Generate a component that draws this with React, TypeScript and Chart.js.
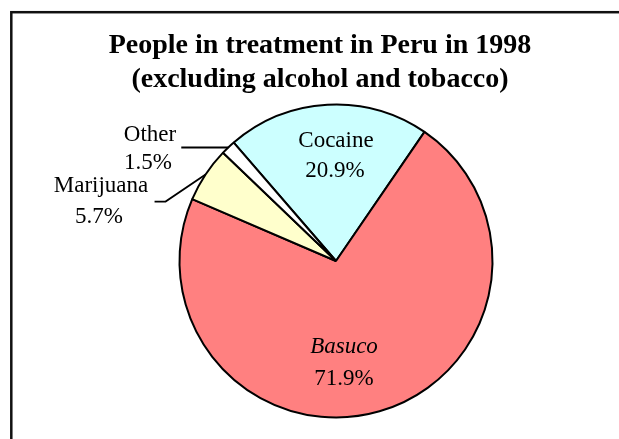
import React, { useEffect, useRef } from "react";
import { Chart, registerables } from "chart.js";

Chart.register(...registerables);

// ---- data ----
const categories = ["Cocaine", "Basuco", "Marijuana", "Other"];
const shares = [20.9, 71.9, 5.7, 1.5];
const sliceColors = ["#CCFFFF", "#FF8080", "#FFFFCC", "#FFFFFF"];
const titleLines = ["People in treatment in Peru in 1998", "(excluding alcohol and tobacco)"];

// ---- layout (label offsets from pie centre, px) ----
const labelLayout: Record<string, any> = {
  Cocaine: { name: [0, -114], pct: [-1, -84], italic: false },
  Basuco: { name: [8, 92], pct: [8, 124], italic: true },
  Other: { name: [-186, -120], pct: [-188, -92], italic: false, leader: [[-47, 0]] },
  Marijuana: { name: [-235, -69], pct: [-237, -38], italic: false, leader: [[-40, 27], [-51, 27]] },
};

const FONT = '"Liberation Serif", "Times New Roman", serif';

const framePlugin = {
  id: "frame",
  beforeDraw(chart: any) {
    const ctx = chart.ctx;
    ctx.save();
    ctx.fillStyle = "#ffffff";
    ctx.fillRect(0, 0, chart.width, chart.height);
    ctx.strokeStyle = "#111111";
    ctx.lineWidth = 2.5;
    ctx.strokeRect(11.3, 12.2, chart.width + 20, chart.height + 20);
    // title
    ctx.fillStyle = "#000000";
    ctx.textAlign = "center";
    ctx.textBaseline = "alphabetic";
    ctx.font = `bold 28px ${FONT}`;
    ctx.fillText(titleLines[0], 320, 53);
    ctx.fillText(titleLines[1], 320, 87);
    ctx.restore();
  },
};

const labelPlugin = {
  id: "sliceLabels",
  afterDatasetsDraw(chart: any) {
    const ctx = chart.ctx;
    const arcs = chart.getDatasetMeta(0).data as any[];
    ctx.save();
    arcs.forEach((arc: any, i: number) => {
      const p = arc.getProps(["x", "y", "startAngle", "endAngle", "outerRadius"], true);
      const cat = categories[i];
      const lay = labelLayout[cat];
      const cx = p.x;
      const cy = p.y;
      if (lay.leader) {
        const mid = (p.startAngle + p.endAngle) / 2;
        const px = cx + p.outerRadius * Math.cos(mid);
        const py = cy + p.outerRadius * Math.sin(mid);
        ctx.beginPath();
        ctx.strokeStyle = "#000000";
        ctx.lineWidth = 1.8;
        ctx.moveTo(px, py);
        lay.leader.forEach((d: number[]) => ctx.lineTo(px + d[0], py + d[1]));
        ctx.stroke();
      }
      ctx.fillStyle = "#000000";
      ctx.textAlign = "center";
      ctx.textBaseline = "alphabetic";
      ctx.font = `${lay.italic ? "italic " : ""}23px ${FONT}`;
      ctx.fillText(cat, cx + lay.name[0], cy + lay.name[1]);
      ctx.font = `23px ${FONT}`;
      ctx.fillText(`${shares[i].toFixed(1)}%`, cx + lay.pct[0], cy + lay.pct[1]);
    });
    ctx.restore();
  },
};

export default function App() {
  const ref = useRef<HTMLCanvasElement | null>(null);
  useEffect(() => {
    if (!ref.current) return;
    const chart = new Chart(ref.current, {
      type: "pie",
      data: {
        labels: categories,
        datasets: [
          {
            data: shares,
            backgroundColor: sliceColors,
            borderColor: "#000000",
            borderWidth: 2,
          },
        ],
      },
      options: {
        responsive: false,
        animation: false,
        events: [],
        rotation: -40.8,
        radius: 156.5,
        layout: { padding: { left: 53, right: 0, top: 83, bottom: 0 } },
        plugins: {
          legend: { display: false },
          tooltip: { enabled: false },
          title: { display: false },
        },
      } as any,
      plugins: [framePlugin, labelPlugin],
    });
    return () => chart.destroy();
  }, []);
  return (
    <div style={{ position: "fixed", left: 0, top: 0, width: 619, height: 439, overflow: "hidden", background: "#fff" }}>
      <canvas ref={ref} width={619} height={439} style={{ width: 619, height: 439, display: "block" }} />
    </div>
  );
}
